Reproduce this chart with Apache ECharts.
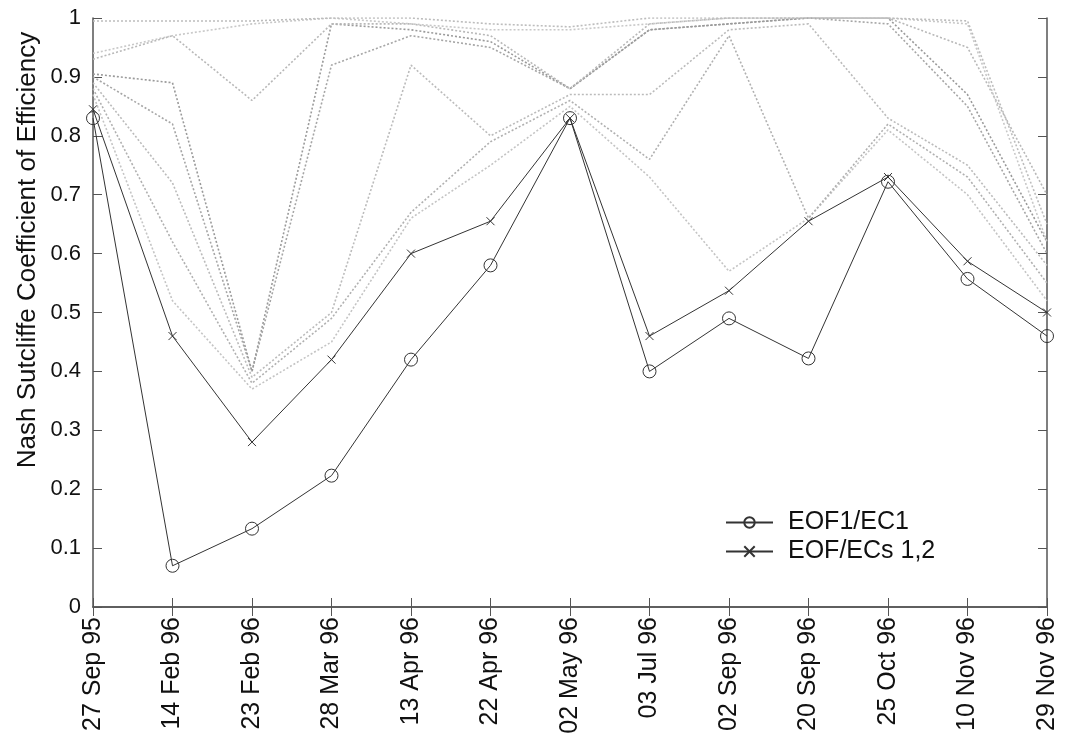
<!DOCTYPE html>
<html>
<head>
<meta charset="utf-8">
<script src="https://cdn.jsdelivr.net/npm/echarts@6/dist/echarts.min.js"></script>
<style>
html,body{margin:0;padding:0;background:#fff;}
#chart{width:1070px;height:747px;}
</style>
</head>
<body>
<div id="chart"></div>
<script>
var categories = ['27 Sep 95','14 Feb 96','23 Feb 96','28 Mar 96','13 Apr 96','22 Apr 96','02 May 96','03 Jul 96','02 Sep 96','20 Sep 96','25 Oct 96','10 Nov 96','29 Nov 96'];
var yTicks = [0,0.1,0.2,0.3,0.4,0.5,0.6,0.7,0.8,0.9,1];
var yTitle = 'Nash Sutcliffe Coefficient of Efficiency';

var eof1 = [0.83, 0.07, 0.133, 0.223, 0.42, 0.58, 0.83, 0.40, 0.49, 0.422, 0.722, 0.557, 0.46];
var eof12 = [0.845, 0.46, 0.28, 0.42, 0.60, 0.655, 0.83, 0.46, 0.537, 0.655, 0.73, 0.587, 0.50];

var eof3 = [0.87, 0.52, 0.37, 0.45, 0.66, 0.75, 0.85, 0.73, 0.57, 0.66, 0.81, 0.70, 0.52];
var eof4 = [0.88, 0.62, 0.38, 0.49, 0.67, 0.79, 0.86, 0.76, 0.97, 0.66, 0.82, 0.73, 0.55];
var eof5 = [0.89, 0.72, 0.39, 0.50, 0.92, 0.80, 0.87, 0.87, 0.98, 0.99, 0.83, 0.75, 0.58];
var eof6 = [0.90, 0.82, 0.40, 0.92, 0.97, 0.95, 0.88, 0.98, 0.99, 1.00, 0.99, 0.85, 0.60];
var eof7 = [0.905, 0.89, 0.40, 0.99, 0.98, 0.96, 0.88, 0.98, 0.99, 1.00, 1.00, 0.87, 0.62];
var eof8 = [0.93, 0.97, 0.86, 0.99, 0.99, 0.97, 0.88, 0.99, 1.00, 1.00, 1.00, 0.95, 0.70];
var eof9 = [0.94, 0.97, 0.99, 1.00, 0.99, 0.98, 0.98, 0.99, 1.00, 1.00, 1.00, 0.99, 0.62];
var eof10 = [0.995, 0.995, 0.995, 1.00, 1.00, 0.99, 0.985, 1.00, 1.00, 1.00, 1.00, 0.995, 0.65];

var dotted = [
  {d: eof3, c: '#c4c4c4'},
  {d: eof4, c: '#b0b0b0'},
  {d: eof5, c: '#bbbbbb'},
  {d: eof6, c: '#a6a6a6'},
  {d: eof7, c: '#9a9a9a'},
  {d: eof8, c: '#b8b8b8'},
  {d: eof9, c: '#c8c8c8'},
  {d: eof10, c: '#bdbdbd'}
];

var chart = echarts.init(document.getElementById('chart'), null, {renderer: 'canvas'});
var font = 'Liberation Sans, Arial, sans-serif';
var dark = '#333333';

var series = dotted.map(function (s, i) {
  return {
    name: 'EOF' + (i + 3), type: 'line', data: s.d, symbol: 'none', silent: true,
    lineStyle: {color: s.c, width: 1.6, type: [2, 2]}, z: 1, animation: false
  };
});
series.push({
  name: 'EOF1/EC1', type: 'line', data: eof1, symbol: 'circle', symbolSize: 13,
  showAllSymbol: true,
  lineStyle: {color: dark, width: 1},
  itemStyle: {color: 'rgba(255,255,255,0)', borderColor: dark, borderWidth: 1},
  z: 5, animation: false
});
series.push({
  name: 'EOF/ECs 1,2', type: 'line', data: eof12,
  symbol: 'path://M0,0L10,10M10,0L0,10', symbolSize: 8, showAllSymbol: true,
  lineStyle: {color: dark, width: 1},
  itemStyle: {color: 'rgba(255,255,255,0)', borderColor: dark, borderWidth: 1},
  z: 5, animation: false
});

var option = {
  backgroundColor: '#fff',
  animation: false,
  grid: {left: 93, right: 23, top: 18, bottom: 140, containLabel: false},
  legend: {
    data: ['EOF1/EC1', 'EOF/ECs 1,2'],
    orient: 'vertical', left: 720, top: 505,
    itemWidth: 47, itemHeight: 13, itemGap: 4,
    textStyle: {fontFamily: font, fontSize: 25, color: '#111', padding: [0,0,0,10]}
  },
  graphic: [{
    type: 'text', x: 28, y: 250, rotation: Math.PI / 2,
    style: {text: yTitle, font: '26px ' + font, fill: '#111', align: 'center', verticalAlign: 'middle'}
  }],
  xAxis: [{
    type: 'category', data: categories, boundaryGap: false,
    axisLine: {show: true, lineStyle: {color: '#555', width: 1.5}},
    axisTick: {show: true, inside: true, length: 9, alignWithLabel: true, lineStyle: {color: '#555'}},
    axisLabel: {rotate: 90, fontFamily: font, fontSize: 25, color: '#111', margin: 10, interval: 0},
    splitLine: {show: false}
  }, {
    type: 'category', data: categories, boundaryGap: false, position: 'top',
    axisLine: {show: true, lineStyle: {color: '#555', width: 1.5}},
    axisTick: {show: true, inside: true, length: 9, lineStyle: {color: '#555'}},
    axisLabel: {show: false}, splitLine: {show: false}
  }],
  yAxis: [{
    type: 'value', min: 0, max: 1, interval: 0.1,
    axisLine: {show: true, lineStyle: {color: '#555', width: 1.5}},
    axisTick: {show: true, inside: true, length: 9, lineStyle: {color: '#555'}},
    axisLabel: {fontFamily: font, fontSize: 22, color: '#111', margin: 12,
      formatter: function (v) { var r = Math.round(v * 10) / 10; return yTicks.indexOf(r) >= 0 ? String(r) : ''; }},
    splitLine: {show: false}
  }, {
    type: 'value', min: 0, max: 1, interval: 0.1, position: 'right',
    axisLine: {show: true, lineStyle: {color: '#555', width: 1.5}},
    axisTick: {show: true, inside: true, length: 9, lineStyle: {color: '#555'}},
    axisLabel: {show: false}, splitLine: {show: false}
  }],
  series: series
};
chart.setOption(option);
</script>
</body>
</html>
